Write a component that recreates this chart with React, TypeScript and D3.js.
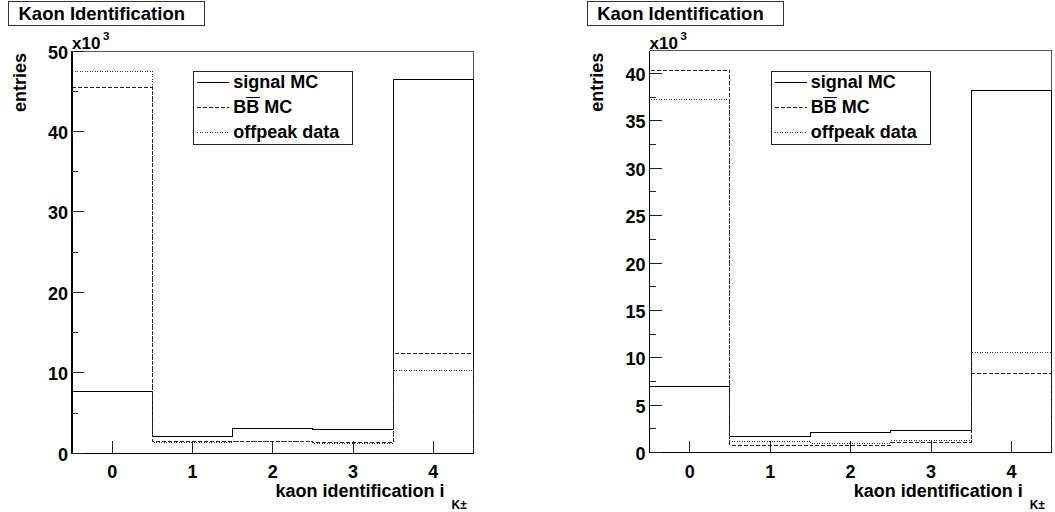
import React, { useRef, useEffect } from 'react'
import * as d3 from 'd3'

// bin centres of the kaon identification variable
const bins = [0, 1, 2, 3, 4]
const xTicks = [0, 1, 2, 3, 4]

// entries (x10^3), left canvas
const leftSignal = [7.7, 2.03, 3.1, 2.9, 46.5]
const leftBB = [45.5, 1.5, 1.5, 1.3, 12.4]
const leftOffpeak = [47.5, 1.4, 1.45, 1.25, 10.35]

// entries (x10^3), right canvas
const rightSignal = [6.94, 1.67, 2.09, 2.34, 38.2]
const rightBB = [40.35, 0.72, 0.79, 1.05, 8.39]
const rightOffpeak = [37.3, 1.21, 0.93, 1.25, 10.6]

const legendLabels = ['signal MC', 'BB MC', 'offpeak data']
const titleText = 'Kaon Identification'

const FONT = "'Liberation Sans', Arial, Helvetica, sans-serif"

interface Panel {
  x0: number
  x1: number
  y0: number
  y1: number
  yMax: number
  yStep: number
  titleX: number
  series: number[][]
}

const panels: Panel[] = [
  { x0: 72, x1: 473.5, y0: 51, y1: 453.3, yMax: 50, yStep: 10, titleX: 8, series: [leftSignal, leftBB, leftOffpeak] },
  { x0: 649.5, x1: 1051.7, y0: 50.7, y1: 452.5, yMax: 42.41, yStep: 5, titleX: 586.7, series: [rightSignal, rightBB, rightOffpeak] },
]

const styles = [
  { dash: null as string | null, color: '#000' },
  { dash: '4,2', color: '#222' },
  { dash: '1,1.5', color: '#333' },
]

const App: React.FC = () => {
  const svgRef = useRef<SVGSVGElement>(null)

  useEffect(() => {
    const svg = d3.select(svgRef.current!)
    svg.selectAll('*').remove()

    svg.append('rect').attr('width', 1055).attr('height', 512).attr('fill', 'white')

    panels.forEach((p) => {
      const x = d3.scaleLinear().domain([-0.5, 4.5]).range([p.x0, p.x1])
      const y = d3.scaleLinear().domain([0, p.yMax]).range([p.y1, p.y0])
      const lines = svg.append('g').attr('shape-rendering', 'crispEdges')
      const g = svg.append('g').style('font-family', FONT).style('font-weight', 'bold')

      // title box
      lines.append('rect')
        .attr('x', p.titleX + 0.5)
        .attr('y', 1)
        .attr('width', 196)
        .attr('height', 24)
        .attr('fill', 'white')
        .attr('stroke', '#333')
      g.append('text')
        .attr('x', p.titleX + 10.5)
        .attr('y', 20)
        .style('font-size', '18.5px')
        .text(titleText)

      // frame top / right
      lines.append('path')
        .attr('d', `M${p.x0},${p.y0}H${p.x1}V${p.y1}`)
        .attr('fill', 'none')
        .attr('stroke', '#555')

      // histograms
      p.series.forEach((vals, si) => {
        const pts: [number, number][] = [[x(-0.5), y(0)]]
        bins.forEach((b, i) => {
          pts.push([x(b - 0.5), y(vals[i])])
          pts.push([x(b + 0.5), y(vals[i])])
        })
        pts.push([x(4.5), y(0)])
        const path = lines.append('path')
          .attr('d', d3.line()(pts))
          .attr('fill', 'none')
          .attr('stroke', styles[si].color)
          .attr('stroke-width', 1)
        if (styles[si].dash) path.attr('stroke-dasharray', styles[si].dash)
      })

      // axes
      lines.append('path')
        .attr('d', `M${p.x0},${p.y0}V${p.y1}H${p.x1}`)
        .attr('fill', 'none')
        .attr('stroke', '#000')
        .attr('stroke-width', 1.3)

      const yMajor = d3.range(0, p.yMax + 0.001, p.yStep)
      const yMinor = d3.range(p.yStep / 2, p.yMax, p.yStep)
      yMajor.forEach((v) => {
        lines.append('line')
          .attr('x1', p.x0).attr('x2', p.x0 + 12)
          .attr('y1', y(v)).attr('y2', y(v))
          .attr('stroke', '#222')
        g.append('text')
          .attr('x', p.x0 - 4)
          .attr('y', y(v) + 7.5)
          .attr('text-anchor', 'end')
          .style('font-size', '18px')
          .text(v)
      })
      yMinor.forEach((v) => {
        lines.append('line')
          .attr('x1', p.x0).attr('x2', p.x0 + 6)
          .attr('y1', y(v)).attr('y2', y(v))
          .attr('stroke', '#222')
      })
      xTicks.forEach((v) => {
        lines.append('line')
          .attr('x1', x(v)).attr('x2', x(v))
          .attr('y1', p.y1).attr('y2', p.y1 - 12)
          .attr('stroke', '#222')
        g.append('text')
          .attr('x', x(v))
          .attr('y', 477.5)
          .attr('text-anchor', 'middle')
          .style('font-size', '18px')
          .text(v)
      })

      // x10^3
      g.append('text')
        .attr('x', p.x0)
        .attr('y', 49)
        .style('font-size', '17px')
        .text('x10')
      g.append('text')
        .attr('x', p.x0 + 31)
        .attr('y', 39.5)
        .style('font-size', '11.5px')
        .text('3')

      // axis titles
      g.append('text')
        .attr('transform', `translate(${p.x0 - 46.5},${p.y0 + 2}) rotate(-90)`)
        .attr('text-anchor', 'end')
        .style('font-size', '18px')
        .text('entries')
      g.append('text')
        .attr('x', p.x1 - 29)
        .attr('y', 497)
        .attr('text-anchor', 'end')
        .style('font-size', '18px')
        .text('kaon identification i')
      g.append('text')
        .attr('x', p.x1 - 22)
        .attr('y', 509)
        .style('font-size', '12px')
        .text('K±')

      // legend
      const lx = p.x0 + 121.3
      const ly = 70.7
      lines.append('rect')
        .attr('x', lx + 0.5).attr('y', ly + 0.5)
        .attr('width', 159).attr('height', 73)
        .attr('fill', 'white')
        .attr('stroke', '#222')
      const rowBase = [88, 113, 138]
      legendLabels.forEach((lab, i) => {
        const l = lines.append('line')
          .attr('x1', lx + 4).attr('x2', lx + 36)
          .attr('y1', rowBase[i] - 6).attr('y2', rowBase[i] - 6)
          .attr('stroke', styles[i].color)
        if (styles[i].dash) l.attr('stroke-dasharray', styles[i].dash)
        g.append('text')
          .attr('x', lx + 40)
          .attr('y', rowBase[i])
          .style('font-size', '18px')
          .text(lab)
      })
      // overline on the second B
      lines.append('line')
        .attr('x1', lx + 52.5).attr('x2', lx + 66.5)
        .attr('y1', rowBase[1] - 15.5).attr('y2', rowBase[1] - 15.5)
        .attr('stroke', '#000')
        .attr('stroke-width', 1.3)
    })
  }, [])

  return (
    <svg
      ref={svgRef}
      width={1055}
      height={512}
      style={{ position: 'absolute', left: 0, top: 0 }}
    />
  )
}

export default App
